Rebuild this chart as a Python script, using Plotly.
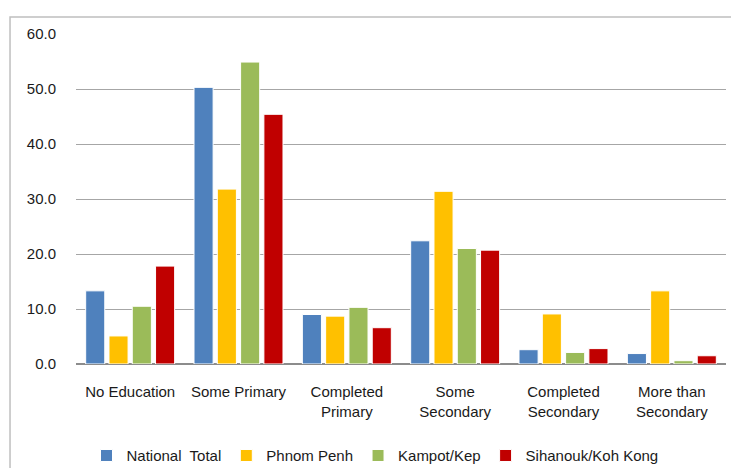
import plotly.graph_objects as go

categories = ["No Education", "Some Primary", "Completed<br>Primary", "Some<br>Secondary",
              "Completed<br>Secondary", "More than<br>Secondary"]
series_names = ["National  Total", "Phnom Penh", "Kampot/Kep", "Sihanouk/Koh Kong"]
national_total = [13.3, 50.3, 9.0, 22.4, 2.6, 1.9]
phnom_penh = [5.1, 31.8, 8.7, 31.4, 9.1, 13.3]
kampot_kep = [10.5, 54.9, 10.3, 21.0, 2.1, 0.6]
sihanouk_koh_kong = [17.8, 45.4, 6.6, 20.7, 2.8, 1.5]
colors = ["#4F81BD", "#FFC000", "#9BBB59", "#C00000"]
tick_vals = [0, 10, 20, 30, 40, 50, 60]

fig = go.Figure()
for name, vals, col in zip(series_names,
                           [national_total, phnom_penh, kampot_kep, sihanouk_koh_kong],
                           colors):
    fig.add_trace(go.Bar(x=categories, y=vals, name=name,
                         marker=dict(color=col, line=dict(color="white", width=1))))

fig.update_layout(
    width=731, height=468,
    margin=dict(l=76, r=5, t=34, b=104, autoexpand=False),
    paper_bgcolor="white", plot_bgcolor="white",
    font=dict(family="Liberation Sans, Arial, sans-serif", size=15, color="#1a1a1a"),
    barmode="group", bargap=0.14, bargroupgap=0.18,
    showlegend=True,
    legend=dict(orientation="h", x=0.46, xanchor="center", y=-0.278, yanchor="middle",
                font=dict(size=15), itemwidth=30, traceorder="normal"),
    xaxis=dict(showgrid=False, showline=False, ticks="outside", ticklen=14,
               tickcolor="rgba(0,0,0,0)", tickangle=0, automargin=False),
    yaxis=dict(range=[0, 60], tickvals=tick_vals, tickformat=".1f",
               showgrid=True, gridcolor="#A6A6A6", gridwidth=1,
               zeroline=True, zerolinecolor="#8C8C8C", zerolinewidth=2,
               showline=False, ticks="outside", ticklen=16, tickcolor="rgba(0,0,0,0)",
               automargin=False),
    shapes=[dict(type="rect", xref="paper", yref="paper",
                 x0=-0.1015, x1=1.2, y0=-0.5, y1=1.0516,
                 line=dict(color="#BFBFBF", width=1.5), fillcolor="rgba(0,0,0,0)", layer="above")],
)

fig.write_html("out.html")
